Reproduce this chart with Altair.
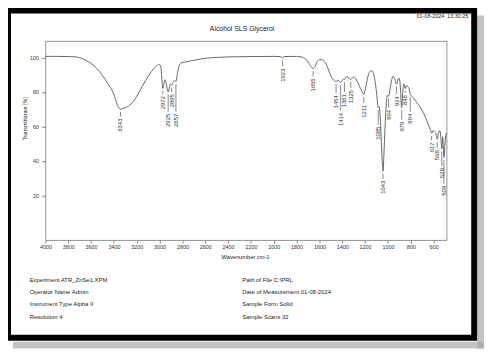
import altair as alt
import pandas as pd

# ---- spectrum ----
wavenumber = [4000, 3900, 3800, 3750, 3700, 3650, 3600, 3550, 3500, 3450, 3400, 3370, 3343, 3300, 3250,
              3200, 3150, 3100, 3050, 3020, 3000, 2990, 2980, 2972, 2962, 2950, 2940, 2925, 2912, 2905,
              2895, 2880, 2868, 2857, 2845, 2830, 2810, 2780, 2700, 2600, 2500, 2400, 2200, 2000, 1940,
              1923, 1910, 1800, 1760, 1720, 1690, 1665, 1655, 1640, 1620, 1595, 1570, 1540, 1510, 1490,
              1470, 1454, 1440, 1430, 1414, 1400, 1390, 1381, 1365, 1350, 1335, 1325, 1310, 1300, 1285,
              1265, 1240, 1225, 1211, 1200, 1185, 1170, 1155, 1140, 1125, 1110, 1100, 1090, 1085, 1078,
              1070, 1060, 1050, 1043, 1036, 1025, 1015, 1005, 994, 985, 970, 955, 945, 935, 924,
              915, 905, 895, 879, 870, 860, 848, 840, 825, 815, 804, 790, 770, 750, 720,
              690, 660, 640, 628, 617, 605, 590, 580, 568, 558, 548, 538, 528, 520, 509,
              500, 490]
transmittance = [100.6, 100.6, 100.5, 100.4, 99.8, 98.5, 96.5, 93.5, 89.5, 84.5, 78.5, 72.5, 70.0, 70.8, 73.0,
                 77.5, 83.5, 89.0, 93.5, 95.5, 95.8, 94.5, 88, 82, 85, 87, 84, 80, 83, 84.5,
                 84, 86, 86.5, 86, 90, 95, 96.8, 97.3, 98.3, 99.5, 100, 100.3, 100.5, 100.6, 100.5,
                 99.8, 100.5, 100.6, 100.3, 99, 96.5, 94, 93.5, 94.5, 97.5, 98.8, 98.5, 96, 91, 88,
                 86.5, 86, 86.8, 86.5, 85.5, 86.5, 87.5, 87.2, 88.8, 88.5, 87.5, 87.2, 88.3, 88.7, 88,
                 85.5, 82, 80, 78.5, 81, 86, 90, 92, 92.2, 90.5, 85, 80, 73, 71, 71.5,
                 68, 55, 40, 34, 42, 60, 72, 78, 77.5, 80, 86, 89, 88.5, 86.5, 84.5,
                 86.5, 88, 86, 71, 80, 84.5, 82, 83.5, 83, 82, 78.5, 77.5, 76, 74, 71.5,
                 68, 63.5, 60, 58, 56, 57.5, 57, 56, 52.5, 56, 57.5, 55, 47, 54, 42,
                 50, 56]

# ---- peak labels ----
peak_wn = [3343, 2972, 2925, 2895, 2857, 1923, 1655, 1454, 1414, 1381, 1325, 1211,
           1085, 1043, 994, 924, 879, 848, 804, 617, 568, 528, 509]
# transmittance level where each label's text starts (labels staggered downward)
peak_label_t = [64.4, 77.5, 67.3, 78.7, 67.3, 93.5, 87.8, 78.1, 67.8, 78.7, 81.0, 72.4,
                59.8, 28.5, 69.5, 77.5, 62.7, 78.1, 67.3, 50.7, 46.1, 35.8, 25.5]

x_ticks = list(range(600, 4001, 200))
y_ticks = [20, 40, 60, 80, 100]

title_text = "Alcohol SLS Glycerol"
date_text = "01-08-2024 \u00a013:30:25"
x_title = "Wavenumber cm-1"
y_title = "Transmittance [%]"
meta_left = ["Experiment ATR_ZnSe1.XPM", "Operator Name Admin", "Instrument Type Alpha II", "Resolution 4"]
meta_right = ["Path of File C:\\PRL", "Date of Measurement 01-08-2024", "Sample Form Solid", "Sample Scans 32"]

FONT = "Liberation Sans"
W, H = 407, 202

spec = pd.DataFrame({"wn": wavenumber, "t": transmittance})
lookup = dict(zip(wavenumber, transmittance))
peaks = pd.DataFrame({"wn": peak_wn, "lt": peak_label_t})
peaks["t"] = peaks["wn"].map(lookup)
peaks["label"] = peaks["wn"].astype(str)
peaks["r1"] = peaks["t"] - 1.5
peaks["r2"] = peaks["lt"] + 1.2

xs = alt.Scale(domain=[486, 4000], reverse=True, nice=False, zero=False)
ys = alt.Scale(domain=[-6, 109.5], nice=False, zero=False)
xaxis = alt.Axis(values=x_ticks, title=None, grid=False, domain=False, tickSize=3, tickColor="#555",
                 tickWidth=0.7, labelFontSize=5.5, labelColor="#333", labelFont=FONT, labelPadding=2,
                 labelFlush=False, labelOverlap=False, format="d")
yaxis = alt.Axis(values=y_ticks, title=None, grid=False, domain=False, tickSize=4, tickColor="#555",
                 tickWidth=0.7, labelFontSize=5.5, labelColor="#333", labelFont=FONT, labelPadding=3,
                 labelOverlap=False, format="d")

one = pd.DataFrame({"k": [0]})


def box(x1, x2, y1, y2, **kw):
    return alt.Chart(one).mark_rect(**kw).encode(
        x=alt.value(x1), x2=alt.value(x2), y=alt.value(y1), y2=alt.value(y2))


def txt(s, x, y, size, align="left", angle=0, color="#222"):
    return alt.Chart(one).mark_text(text=s, align=align, baseline="middle", fontSize=size, font=FONT,
                                    color=color, angle=angle).encode(x=alt.value(x), y=alt.value(y))


layers = [
    box(438, 445, -26, 312, color="#aaa", opacity=0.7),
    box(-33, 445, 305, 312, color="#aaa", opacity=0.7),
    box(-38, 435, -31, 301, fillOpacity=0, stroke="#000", strokeWidth=6),
]

line = alt.Chart(spec).mark_line(color="#555", strokeWidth=0.9, interpolate="monotone").encode(
    x=alt.X("wn:Q", scale=xs, axis=xaxis), y=alt.Y("t:Q", scale=ys, axis=yaxis))
leads = alt.Chart(peaks).mark_rule(color="#555", strokeWidth=0.7).encode(
    x=alt.X("wn:Q", scale=xs, axis=xaxis), y=alt.Y("r1:Q", scale=ys, axis=yaxis), y2="r2:Q")
labels = alt.Chart(peaks).mark_text(angle=270, align="right", baseline="middle", fontSize=6,
                                    font=FONT, color="#333").encode(
    x=alt.X("wn:Q", scale=xs, axis=xaxis), y=alt.Y("lt:Q", scale=ys, axis=yaxis), text="label:N")
layers += [line, leads, labels]

layers += [
    txt(title_text, 199.5, -12, 7, align="center"),
    txt(date_text, 429, -25, 5.5, align="right"),
    txt(x_title, 203, 219, 5.8, align="center"),
    txt(y_title, -21, 79, 5.5, align="center", angle=270),
]
meta_y = [242.7, 254.7, 267, 279.7]
for s, yy in zip(meta_left, meta_y):
    layers.append(txt(s, -16, yy, 6))
for s, yy in zip(meta_right, meta_y):
    layers.append(txt(s, 199.7, yy, 6))

chart = alt.layer(*layers).properties(
    width=W, height=H,
    padding={"left": 38, "top": 31, "right": 40, "bottom": 111},
    autosize=alt.AutoSizeParams(type="none"),
    background="white",
).configure_view(stroke="#777", strokeWidth=0.8)

chart.save("out.html", embed_options={"renderer": "svg", "actions": False})
